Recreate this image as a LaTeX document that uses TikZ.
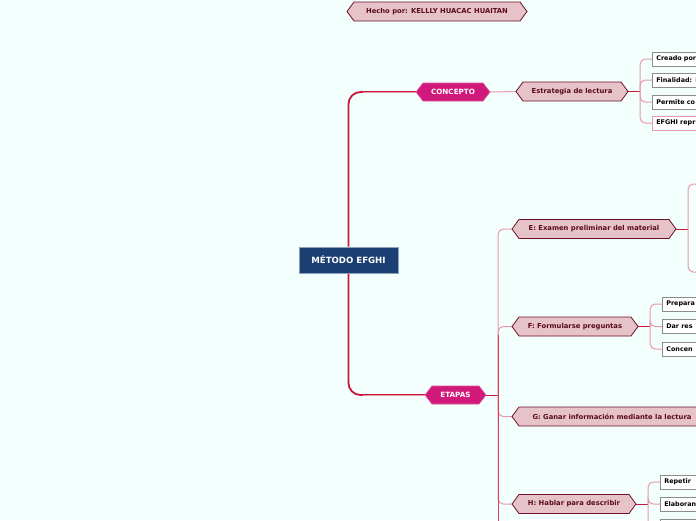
\documentclass[tikz,border=0pt]{standalone}
\usepackage{fontspec}
\setmainfont{DejaVu Sans}
\usetikzlibrary{backgrounds,calc}
\definecolor{bgc}{HTML}{F3FFFC}
\definecolor{hexfill}{HTML}{E6C3C8}
\definecolor{hexline}{HTML}{6E1028}
\definecolor{hextext}{HTML}{5A0A1E}
\definecolor{mag}{HTML}{D0197A}
\definecolor{navy}{HTML}{1B3F73}
\definecolor{trunkc}{HTML}{C8173A}
\definecolor{midc}{HTML}{D6405E}
\definecolor{twigc}{HTML}{E79AAA}
\definecolor{boxline}{HTML}{8C8C8C}
\tikzset{
 pinkhex/.style={fill=hexfill, draw=hexline, line width=0.8pt},
 maghex/.style={fill=mag, draw=mag!75!white, line width=0.6pt},
 pinklbl/.style={font=\fontsize{6.8}{8}\selectfont\bfseries, text=hextext, inner sep=0pt},
 maglbl/.style={font=\fontsize{7.2}{8}\selectfont\bfseries, text=white, inner sep=0pt},
 leaf/.style={anchor=west, fill=white, draw=boxline, line width=0.7pt, minimum height=14pt, inner xsep=4pt, inner ysep=0pt, text width=66pt, align=left, font=\fontsize{6.4}{7}\selectfont\bfseries, text=black},
 trunk/.style={draw=trunkc, line width=1.8pt},
 branch/.style={draw=trunkc, line width=1pt},
 midline/.style={draw=midc, line width=1pt},
 twig/.style={draw=twigc, line width=1pt, rounded corners=5pt},
}
\newcommand\hexshape[5]{%
  \path[#1] ({#2-#4},#3) -- ({#2-#4+7},{#3-#5}) -- ({#2+#4-7},{#3-#5}) -- ({#2+#4},#3) -- ({#2+#4-7},{#3+#5}) -- ({#2-#4+7},{#3+#5}) -- cycle;}
\begin{document}
\begin{tikzpicture}[x=1pt,y=-1pt]
\useasboundingbox (0,0) rectangle (696,520);
\begin{pgfonlayer}{background}
\fill[bgc] (0,0) rectangle (696,520);
\end{pgfonlayer}
% top label
\hexshape{pinkhex}{437}{11.5}{90}{9.5}
\node[pinklbl, minimum width=180pt, minimum height=19pt] (hecho) at (437,11.5) {Hecho por: KELLLY HUACAC HUAITAN};
% center
\node[fill=navy, draw=navy!50!white, line width=0.6pt, minimum width=99pt, minimum height=26pt, inner sep=0pt, font=\fontsize{8.6}{10}\selectfont\bfseries, text=white] (center) at (348.5,260) {MÉTODO EFGHI};
% concepto
\hexshape{maghex}{453}{92}{37}{9}
\node[maglbl, minimum width=74pt, minimum height=18pt] (concepto) at (453,92) {CONCEPTO};
\hexshape{pinkhex}{572}{91.5}{56}{9.5}
\node[pinklbl, minimum width=112pt, minimum height=19pt] (estr) at (572,91.5) {Estrategia de lectura};
\node[leaf] (c1) at (652,59) {Creado por};
\node[leaf] (c2) at (652,80) {Finalidad: I};
\node[leaf] (c3) at (652,102) {Permite co};
\node[leaf, draw=twigc] (c4) at (652,123) {EFGHI repr};
% etapas
\hexshape{maghex}{455.5}{395}{30.5}{9}
\node[maglbl, minimum width=61pt, minimum height=18pt] (etapas) at (455.5,395) {ETAPAS};
\hexshape{pinkhex}{594}{229}{82}{9.5}
\node[pinklbl, minimum width=164pt, minimum height=19pt] (E) at (594,229) {E: Examen preliminar del material};
\hexshape{pinkhex}{575}{326.5}{63}{9.5}
\node[pinklbl, minimum width=126pt, minimum height=19pt] (F) at (575,326.5) {F: Formularse preguntas};
\hexshape{pinkhex}{612}{416.5}{100}{9.5}
\node[pinklbl, minimum width=200pt, minimum height=19pt] (G) at (612,416.5) {G: Ganar información mediante la lectura};
\hexshape{pinkhex}{574}{504}{62}{9.5}
\node[pinklbl, minimum width=124pt, minimum height=19pt] (H) at (574,504) {H: Hablar para describir};
\node[leaf] (f1) at (662,304) {Prepara};
\node[leaf] (f2) at (662,326.5) {Dar res};
\node[leaf] (f3) at (662,349) {Concen};
\node[leaf] (h1) at (660,482) {Repetir};
\node[leaf] (h2) at (660,504) {Elaboran};
\node[leaf] (h3) at (660,526) {};
% connectors
\begin{pgfonlayer}{background}
\draw[trunk, rounded corners=12pt] (center.north) |- (concepto.west);
\draw[trunk, rounded corners=12pt] (center.south) |- (etapas.west);
\draw[twig, rounded corners=0pt] ($(concepto.west -| center)+(14,0)$) -- (concepto.west);
\draw[twig, rounded corners=0pt] ($(etapas.west -| center)+(14,0)$) -- (etapas.west);
% concepto -> estrategia
\draw[twig] (concepto.east) -- (estr.west);
\coordinate (ec) at ($(estr.east)+(12,0)$);
\draw[branch] (estr.east) -- (ec);
\draw[twig] (ec) |- (c1.west);
\draw[twig] (ec) |- (c2.west);
\draw[twig] (ec) |- (c3.west);
\draw[twig] (ec) |- (c4.west);
% etapas tree
\coordinate (tc) at ($(etapas.east)+(12,0)$);
\coordinate (tI) at ($(tc)+(0,140)$);
\draw[branch] (etapas.east) -- (tc);
\draw[twig] (tc) |- (E.west);
\draw[twig] (tc) |- (F.west);
\draw[twig] (tc) |- (G.west);
\draw[twig] (tc) |- (H.west);
\draw[midline] ($(F.west -| tc)+(0,8)$) -- (tI);
% E children
\coordinate (eb) at ($(E.east)+(12,0)$);
\coordinate (e1) at (710,184);
\coordinate (e2) at (710,272);
\draw[branch] (E.east) -- (eb);
\draw[twig] (eb) |- (e1);
\draw[twig] (eb) |- (e2);
% F children
\coordinate (fb) at ($(F.east)+(12,0)$);
\draw[branch] (F.east) -- (fb);
\draw[twig] (fb) |- (f1.west);
\draw[twig] (fb) |- (f2.west);
\draw[twig] (fb) |- (f3.west);
% H children
\coordinate (hb) at ($(H.east)+(12,0)$);
\draw[branch] (H.east) -- (hb);
\draw[twig] (hb) |- (h1.west);
\draw[twig] (hb) |- (h2.west);
\draw[twig] (hb) |- (h3.west);
\end{pgfonlayer}
\end{tikzpicture}
\end{document}
